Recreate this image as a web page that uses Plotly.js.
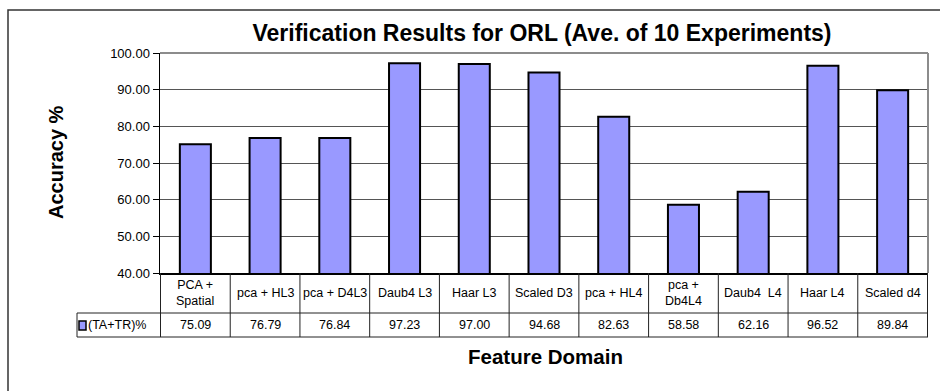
<!DOCTYPE html>
<html>
<head>
<meta charset="utf-8">
<script src="https://cdn.plot.ly/plotly-3.0.1.min.js"></script>
<style>body{margin:0;background:#fff;}</style>
</head>
<body>
<div id="graph" style="width:940px;height:391px;"></div>
<script>
var categories = ["PCA +<br>Spatial", "pca + HL3", "pca + D4L3", "Daub4 L3", "Haar L3", "Scaled D3",
    "pca + HL4", "pca +<br>Db4L4", "Daub4  L4", "Haar L4", "Scaled d4"];
var accuracy = [75.09, 76.79, 76.84, 97.23, 97.00, 94.68, 82.63, 58.58, 62.16, 96.52, 89.84];
var seriesName = "(TA+TR)%";
var yTicks = [40, 50, 60, 70, 80, 90, 100];
var yTickText = yTicks.map(function (v) { return v.toFixed(2); });

var font = "Liberation Sans, Arial, sans-serif";
/* plot area in pixels: left 160, right 928, top 53, bottom 273 */
function px(x) { return (x - 160) / 768; }
function py(y) { return (273 - y) / 220; }

function drawGraph() {
    var bars = {
        x: categories,
        y: accuracy,
        type: 'bar',
        name: seriesName,
        marker: {color: '#9999FF', line: {color: '#000000', width: 2}},
        hoverinfo: 'y'
    };

    var annotations = [];
    var shapes = [];
    var i;
    for (i = 0; i < categories.length; i += 1) {
        annotations.push({
            x: categories[i], xref: 'x', y: py(293), yref: 'paper',
            text: categories[i], showarrow: false, xanchor: 'center', yanchor: 'middle',
            font: {family: font, size: 12.5, color: '#000'}
        });
        annotations.push({
            x: categories[i], xref: 'x', y: py(325), yref: 'paper',
            text: accuracy[i].toFixed(2), showarrow: false, xanchor: 'center', yanchor: 'middle',
            font: {family: font, size: 12.5, color: '#000'}
        });
    }
    /* table vertical lines on category boundaries */
    for (i = 0; i <= categories.length; i += 1) {
        shapes.push({type: 'line', xref: 'x', yref: 'paper', x0: i - 0.5, x1: i - 0.5,
            y0: py(273), y1: py(337), line: {color: '#222', width: 1}});
    }
    shapes.push({type: 'line', xref: 'paper', yref: 'paper', x0: px(77), x1: px(77),
        y0: py(313), y1: py(337), line: {color: '#222', width: 1}});
    shapes.push({type: 'line', xref: 'paper', yref: 'paper', x0: px(77), x1: 1,
        y0: py(313), y1: py(313), line: {color: '#222', width: 1}});
    shapes.push({type: 'line', xref: 'paper', yref: 'paper', x0: px(77), x1: 1,
        y0: py(337), y1: py(337), line: {color: '#222', width: 1}});
    /* plot area top and right border */
    shapes.push({type: 'line', xref: 'paper', yref: 'paper', x0: 0, x1: 1, y0: 1, y1: 1,
        line: {color: '#8c8c8c', width: 2}});
    shapes.push({type: 'line', xref: 'paper', yref: 'paper', x0: 1, x1: 1, y0: 0, y1: 1,
        line: {color: '#8c8c8c', width: 2}});
    /* outer chart border */
    shapes.push({type: 'rect', xref: 'paper', yref: 'paper', x0: px(8), x1: px(960),
        y0: py(410), y1: py(10), line: {color: '#333', width: 1.5}});
    /* legend key */
    shapes.push({type: 'rect', xref: 'paper', yref: 'paper', x0: px(79), x1: px(86),
        y0: py(330), y1: py(321), fillcolor: '#9999FF', line: {color: '#000', width: 1.5}});
    annotations.push({
        x: px(86), xref: 'paper', y: py(325), yref: 'paper', text: seriesName,
        showarrow: false, xanchor: 'left', yanchor: 'middle',
        font: {family: font, size: 12.5, color: '#000'}
    });
    /* axis titles */
    annotations.push({
        x: px(56), xref: 'paper', y: py(162), yref: 'paper', text: '<b>Accuracy %</b>',
        textangle: -90, showarrow: false, xanchor: 'center', yanchor: 'middle',
        font: {family: font, size: 20, color: '#000'}
    });
    annotations.push({
        x: px(545), xref: 'paper', y: py(356), yref: 'paper', text: '<b>Feature Domain</b>',
        showarrow: false, xanchor: 'center', yanchor: 'middle',
        font: {family: font, size: 20.5, color: '#000'}
    });

    var layout = {
        width: 940,
        height: 391,
        margin: {l: 160, r: 12, t: 53, b: 118},
        paper_bgcolor: '#ffffff',
        plot_bgcolor: '#ffffff',
        showlegend: false,
        bargap: 0.555,
        title: {
            text: '<b>Verification Results for ORL (Ave. of 10 Experiments)</b>',
            x: 542 / 940, xanchor: 'center', y: 1 - 33 / 391, yanchor: 'middle',
            font: {family: font, size: 23, color: '#000'}
        },
        xaxis: {
            type: 'category',
            showticklabels: false,
            showgrid: false,
            zeroline: false,
            showline: true,
            linecolor: '#000',
            linewidth: 1.5,
            ticks: ''
        },
        yaxis: {
            range: [40, 100],
            tickvals: yTicks,
            ticktext: yTickText,
            showgrid: true,
            gridcolor: '#555',
            gridwidth: 1,
            zeroline: false,
            showline: true,
            linecolor: '#000',
            linewidth: 1.5,
            ticks: 'outside',
            ticklen: 6,
            tickcolor: '#000',
            tickfont: {family: font, size: 13, color: '#000'}
        },
        shapes: shapes,
        annotations: annotations
    };

    Plotly.newPlot("graph", [bars], layout, {displayModeBar: false, staticPlot: true});
}
drawGraph();
</script>
</body>
</html>
